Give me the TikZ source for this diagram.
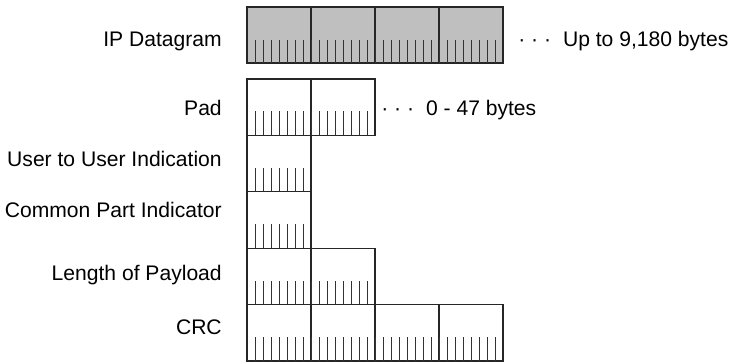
\documentclass[tikz,border=0pt]{standalone}
\usepackage{fontspec}
\setmainfont{Liberation Sans}

\begin{document}
\begin{tikzpicture}[
  byte/.style={draw=black!85,line width=0.8pt},
  bit/.style={black!80,line width=0.55pt},
  lbl/.style={font=\fontsize{15}{18}\selectfont,anchor=base east,inner sep=0pt},
  note/.style={font=\fontsize{15}{18}\selectfont,anchor=base west,inner sep=0pt}]
\useasboundingbox (0.000,0.000) rectangle (18.425,-9.100);
% IP datagram
\draw[byte,fill=black!25] (6.175,-0.175) rectangle (7.775,-1.575);
\draw[byte,fill=black!25] (7.775,-0.175) rectangle (9.375,-1.575);
\draw[byte,fill=black!25] (9.375,-0.175) rectangle (10.975,-1.575);
\draw[byte,fill=black!25] (10.975,-0.175) rectangle (12.575,-1.575);
\foreach \k in {1,...,31} \draw[bit] (6.175+0.2*\k,-1.575) -- ++(0,0.575);
\node[lbl] (ipgram) at (5.550,-1.175) {IP Datagram};
\node[note] (iplen) at (12.950,-1.175) {· · ·\hspace{0.3cm}Up to 9,180 bytes};
% pad
\draw[byte] (6.175,-1.975) rectangle (7.775,-3.385);
\draw[byte] (7.775,-1.975) rectangle (9.375,-3.385);
\foreach \k in {1,...,15} \draw[bit] (6.175+0.2*\k,-3.385) -- ++(0,0.6);
\node[lbl] (pad) at (5.550,-2.900) {Pad};
\node[note] (padlen) at (9.525,-2.900) {· · ·\hspace{0.3cm}0 - 47 bytes};
% user to user indication
\draw[byte] (6.175,-3.385) rectangle (7.775,-4.795);
\foreach \k in {1,...,7} \draw[bit] (6.175+0.2*\k,-4.795) -- ++(0,0.6);
\node[lbl] (uui) at (5.550,-4.175) {User to User Indication};
% common part indicator
\draw[byte] (6.175,-4.795) rectangle (7.775,-6.205);
\foreach \k in {1,...,7} \draw[bit] (6.175+0.2*\k,-6.205) -- ++(0,0.6);
\node[lbl] (cpi) at (5.550,-5.425) {Common Part Indicator};
% length
\draw[byte] (6.175,-6.205) rectangle (7.775,-7.615);
\draw[byte] (7.775,-6.205) rectangle (9.375,-7.615);
\foreach \k in {1,...,15} \draw[bit] (6.175+0.2*\k,-7.615) -- ++(0,0.6);
\node[lbl] (len) at (5.550,-7.000) {Length of Payload};
% crc
\draw[byte] (6.175,-7.615) rectangle (7.775,-9.025);
\draw[byte] (7.775,-7.615) rectangle (9.375,-9.025);
\draw[byte] (9.375,-7.615) rectangle (10.975,-9.025);
\draw[byte] (10.975,-7.615) rectangle (12.575,-9.025);
\foreach \k in {1,...,31} \draw[bit] (6.175+0.2*\k,-9.025) -- ++(0,0.6);
\node[lbl] (crc) at (5.550,-8.350) {CRC};
\end{tikzpicture}
\end{document}
